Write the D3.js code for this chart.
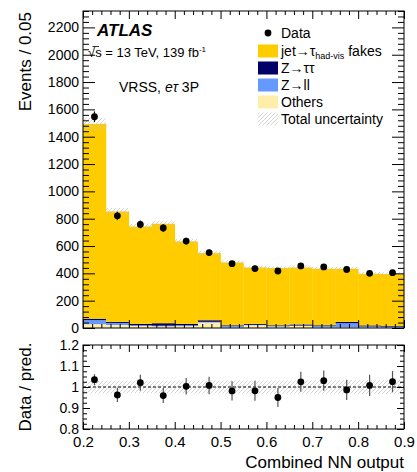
<!DOCTYPE html>
<html>
<head>
<meta charset="utf-8">
<script src="https://cdn.jsdelivr.net/npm/d3@7"></script>
<style>
  body { margin: 0; background: #fff; }
  svg { font-family: "Liberation Sans", Arial, sans-serif; }
</style>
</head>
<body>
<svg id="chart" width="417" height="472"></svg>
<script>
// bins of the combined NN output
const edges = [0.2, 0.25, 0.3, 0.35, 0.4, 0.45, 0.5, 0.55, 0.6, 0.65, 0.7, 0.75, 0.8, 0.85, 0.9];
// stacked backgrounds (events per bin)
const others = [28, 22, 15, 12, 14, 40, 5, 20, 10, 15, 5, 5, 5, 3];
const zll = [30, 15, 5, 5, 6, 5, 10, 3, 5, 3, 10, 30, 7, 7];
const ztt = [10, 8, 10, 18, 10, 12, 5, 7, 5, 8, 5, 10, 7, 5];
const fakes = [1426, 808, 713, 728, 604, 491, 460, 413, 419, 417, 414, 389, 378, 380];
const totUnc = [45, 26, 22, 23, 19, 17, 15, 14, 14, 14, 14, 14, 13, 13];
// observed data
const data = [1546, 821, 758, 732, 636, 552, 471, 435, 417, 454, 447, 428, 400, 405];
const dataErr = [39, 29, 28, 27, 25, 23, 22, 21, 20, 21, 21, 21, 20, 20];

const mainTicks = [0, 200, 400, 600, 800, 1000, 1200, 1400, 1600, 1800, 2000, 2200];
const ratioTicks = [0.8, 0.9, 1.0, 1.1, 1.2];
const xTicks = [0.2, 0.3, 0.4, 0.5, 0.6, 0.7, 0.8, 0.9];

const colors = { others: "#ffeeaa", zll: "#6699ff", ztt: "#000066", fakes: "#ffcc00" };

const svg = d3.select("#chart");
const L = 83, R = 404;
const x = d3.scaleLinear().domain([0.2, 0.9]).range([L, R]);
const y = d3.scaleLinear().domain([0, 2320]).range([328, 11]);
const yr = d3.scaleLinear().domain([0.8, 1.2]).range([429, 345]);

// hatch pattern
const defs = svg.append("defs");
const pat = defs.append("pattern").attr("id", "hatch")
    .attr("patternUnits", "userSpaceOnUse").attr("width", 4).attr("height", 4);
pat.append("path").attr("d", "M-1,1 l2,-2 M0,4 l4,-4 M3,5 l2,-2")
    .attr("stroke", "#c4c4c4").attr("stroke-width", 0.7);

const bins = edges.slice(0, -1).map((e, i) => ({
    lo: e, hi: edges[i + 1],
    others: others[i], zll: zll[i], ztt: ztt[i], fakes: fakes[i],
    total: others[i] + zll[i] + ztt[i] + fakes[i],
    unc: totUnc[i], data: data[i], err: dataErr[i]
}));

const stack = d3.stack().keys(["others", "zll", "ztt", "fakes"])(bins);

const gMain = svg.append("g");
stack.forEach(layer => {
    gMain.selectAll(null).data(layer).enter().append("rect")
        .attr("x", d => x(d.data.lo))
        .attr("width", d => x(d.data.hi) - x(d.data.lo) + 0.3)
        .attr("y", d => y(d[1]))
        .attr("height", d => y(d[0]) - y(d[1]))
        .attr("fill", colors[layer.key]);
});

// uncertainty band on stack
gMain.selectAll(null).data(bins).enter().append("rect")
    .attr("x", d => x(d.lo)).attr("width", d => x(d.hi) - x(d.lo))
    .attr("y", d => y(d.total + d.unc))
    .attr("height", d => y(d.total - d.unc) - y(d.total + d.unc))
    .attr("fill", "url(#hatch)");

// axes helper
function drawYAxis(g, scale, side, major, minor, majLen, minLen, labels, fmt) {
    const ax = side === "left" ? d3.axisLeft(scale) : d3.axisRight(scale);
    const tx = side === "left" ? L : R;
    g.append("g").attr("transform", `translate(${tx},0)`)
        .call(ax.tickValues(minor).tickSizeInner(-minLen).tickSizeOuter(0).tickFormat(""))
        .call(s => s.select(".domain").remove());
    const gm = g.append("g").attr("transform", `translate(${tx},0)`)
        .call(ax.tickValues(major).tickSizeInner(-majLen).tickSizeOuter(0)
            .tickPadding(4).tickFormat(labels ? fmt : ""))
        .call(s => s.select(".domain").remove());
    gm.selectAll("text").attr("font-size", 14).attr("fill", "#000")
        .attr("font-family", "Liberation Sans, Arial, sans-serif");
}
function drawXAxis(g, yPos, side, majLen, minLen, labels) {
    const ax = side === "bottom" ? d3.axisBottom(x) : d3.axisTop(x);
    const minor = d3.range(0.2, 0.9001, 0.02).filter(v => Math.abs(v * 10 - Math.round(v * 10)) > 1e-6);
    g.append("g").attr("transform", `translate(0,${yPos})`)
        .call(ax.tickValues(minor).tickSizeInner(-minLen).tickSizeOuter(0).tickFormat(""))
        .call(s => s.select(".domain").remove());
    const gm = g.append("g").attr("transform", `translate(0,${yPos})`)
        .call(ax.tickValues(xTicks).tickSizeInner(-majLen).tickSizeOuter(0)
            .tickPadding(7).tickFormat(labels ? d3.format(".1f") : ""))
        .call(s => s.select(".domain").remove());
    gm.selectAll("text").attr("font-size", 15).attr("fill", "#000")
        .attr("font-family", "Liberation Sans, Arial, sans-serif");
}

const mainMinor = d3.range(0, 2321, 40).filter(v => v % 200 !== 0);
drawYAxis(svg, y, "left", mainTicks, mainMinor, 12, 6, true, d3.format("d"));
drawYAxis(svg, y, "right", mainTicks, mainMinor, 12, 6, false);
drawXAxis(svg, 328, "bottom", 8, 4, false);
drawXAxis(svg, 11, "top", 8, 4, false);

svg.append("rect").attr("x", L).attr("y", 11).attr("width", R - L).attr("height", 328 - 11)
    .attr("fill", "none").attr("stroke", "#000").attr("stroke-width", 1);

// data points main
const gData = svg.append("g");
gData.selectAll(null).data(bins).enter().append("line")
    .attr("x1", d => x((d.lo + d.hi) / 2)).attr("x2", d => x((d.lo + d.hi) / 2))
    .attr("y1", d => y(d.data - d.err)).attr("y2", d => y(d.data + d.err))
    .attr("stroke", "#000").attr("stroke-width", 1.2);
gData.selectAll(null).data(bins).enter().append("circle")
    .attr("cx", d => x((d.lo + d.hi) / 2)).attr("cy", d => y(d.data))
    .attr("r", 3.4).attr("fill", "#000");

// ratio panel
const gR = svg.append("g");
gR.selectAll(null).data(bins).enter().append("rect")
    .attr("x", d => x(d.lo)).attr("width", d => x(d.hi) - x(d.lo) + 0.3)
    .attr("y", d => yr(1 + d.unc / d.total))
    .attr("height", d => yr(1 - d.unc / d.total) - yr(1 + d.unc / d.total))
    .attr("fill", "url(#hatch)");
gR.append("line").attr("x1", L).attr("x2", R).attr("y1", yr(1)).attr("y2", yr(1))
    .attr("stroke", "#000").attr("stroke-width", 1).attr("stroke-dasharray", "3,2");

const ratioMinor = d3.range(0.8, 1.2001, 0.025).filter(v => Math.abs(v * 10 - Math.round(v * 10)) > 1e-6);
drawYAxis(svg, yr, "left", ratioTicks, ratioMinor, 7, 4, true, d => d === 1 ? "1" : d3.format(".1f")(d));
drawYAxis(svg, yr, "right", ratioTicks, ratioMinor, 7, 4, false);
drawXAxis(svg, 429, "bottom", 7, 4, true);
drawXAxis(svg, 345, "top", 7, 4, false);
svg.append("rect").attr("x", L).attr("y", 345).attr("width", R - L).attr("height", 429 - 345)
    .attr("fill", "none").attr("stroke", "#000").attr("stroke-width", 1);

gR.selectAll(null).data(bins).enter().append("line")
    .attr("x1", d => x((d.lo + d.hi) / 2)).attr("x2", d => x((d.lo + d.hi) / 2))
    .attr("y1", d => yr((d.data - d.err) / d.total)).attr("y2", d => yr((d.data + d.err) / d.total))
    .attr("stroke", "#555").attr("stroke-width", 1.2);
gR.selectAll(null).data(bins).enter().append("circle")
    .attr("cx", d => x((d.lo + d.hi) / 2)).attr("cy", d => yr(d.data / d.total))
    .attr("r", 3.4).attr("fill", "#000");

// axis titles
svg.append("text").attr("transform", "translate(31,12) rotate(-90)")
    .attr("text-anchor", "end").attr("font-size", 17).text("Events / 0.05");
svg.append("text").attr("transform", "translate(31,387) rotate(-90)")
    .attr("text-anchor", "middle").attr("font-size", 17).text("Data / pred.");
svg.append("text").attr("x", R).attr("y", 468).attr("text-anchor", "end")
    .attr("font-size", 17).text("Combined NN output");

// labels
svg.append("text").attr("x", 97).attr("y", 36).attr("font-size", 17)
    .attr("font-weight", "bold").attr("font-style", "italic").text("ATLAS");
const lumi = svg.append("text").attr("x", 88).attr("y", 57).attr("font-size", 13);
lumi.append("tspan").text("√s = 13 TeV, 139 fb");
lumi.append("tspan").attr("font-size", 8).attr("dy", -5).text("-1");
svg.append("line").attr("x1", 92.5).attr("x2", 99).attr("y1", 46.5).attr("y2", 46.5)
    .attr("stroke", "#000").attr("stroke-width", 0.8);
const reg = svg.append("text").attr("x", 119).attr("y", 92).attr("font-size", 14);
reg.append("tspan").text("VRSS, ");
reg.append("tspan").attr("font-style", "italic").text("e");
reg.append("tspan").attr("font-style", "italic").text("τ");
reg.append("tspan").text(" 3P");

// legend
const leg = svg.append("g");
const lx = 258, rows = [33, 51, 68, 85, 102, 119];
leg.append("circle").attr("cx", lx + 10).attr("cy", rows[0]).attr("r", 3.4).attr("fill", "#000");
const sw = [["fakes", 1], ["ztt", 2], ["zll", 3], ["others", 4]];
sw.forEach(([k, r]) => leg.append("rect").attr("x", lx).attr("y", rows[r] - 6.5)
    .attr("width", 20).attr("height", 13).attr("fill", colors[k]));
leg.append("rect").attr("x", lx).attr("y", rows[5] - 6.5).attr("width", 20).attr("height", 13)
    .attr("fill", "url(#hatch)");
function legText(r) {
    return leg.append("text").attr("x", 281).attr("y", rows[r] + 5).attr("font-size", 14);
}
legText(0).text("Data");
const t1 = legText(1);
t1.append("tspan").text("jet→τ");
t1.append("tspan").attr("font-size", 9).attr("dy", 3).text("had-vis");
t1.append("tspan").attr("dy", -3).text(" fakes");
legText(2).text("Z→ττ");
legText(3).text("Z→ll");
legText(4).text("Others");
legText(5).text("Total uncertainty");
</script>
</body>
</html>
